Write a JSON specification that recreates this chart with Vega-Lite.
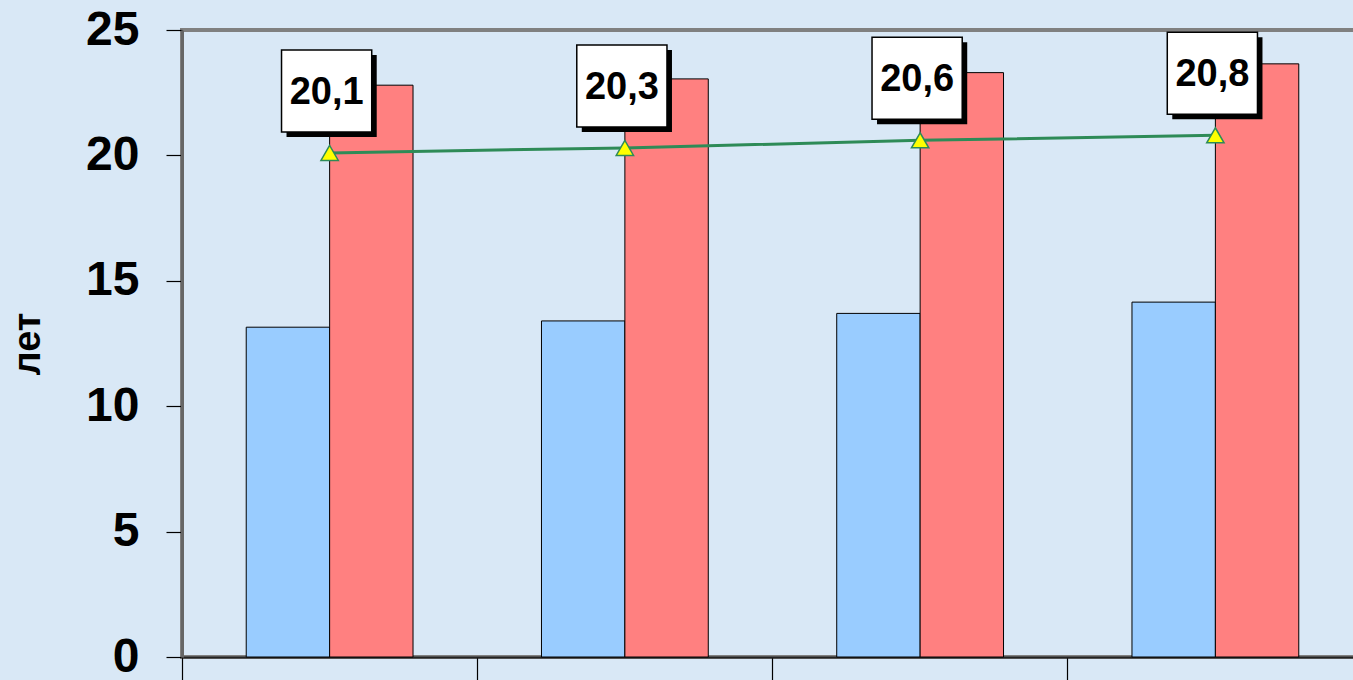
{
  "$schema": "https://vega.github.io/schema/vega-lite/v6.json",
  "autosize": {"type": "none"},
  "padding": {"left": 182, "top": 30, "right": 0, "bottom": 23},
  "width": 1181,
  "height": 627,
  "background": "#d9e8f6",
  "config": {
    "view": {"stroke": "#808080", "strokeWidth": 4},
    "locale": {"number": {"decimal": ",", "thousands": " ", "grouping": [3], "currency": ["", ""]}}
  },
  "datasets": {
    "bars": [
      {"cat": "1", "series": "a", "value": 13.15},
      {"cat": "1", "series": "b", "value": 22.8},
      {"cat": "2", "series": "a", "value": 13.4},
      {"cat": "2", "series": "b", "value": 23.05},
      {"cat": "3", "series": "a", "value": 13.7},
      {"cat": "3", "series": "b", "value": 23.3},
      {"cat": "4", "series": "a", "value": 14.15},
      {"cat": "4", "series": "b", "value": 23.65}
    ],
    "line": [
      {"cat": "1", "value": 20.1},
      {"cat": "2", "value": 20.3},
      {"cat": "3", "value": 20.6},
      {"cat": "4", "value": 20.8}
    ]
  },
  "encoding": {
    "x": {
      "field": "cat", "type": "nominal",
      "scale": {"paddingInner": 0, "paddingOuter": 0},
      "axis": {
        "title": null, "labels": false, "bandPosition": 0,
        "tickSize": 30, "tickColor": "#000000", "tickWidth": 1.2,
        "domainColor": "#222222", "domainWidth": 2
      }
    },
    "y": {
      "field": "value", "type": "quantitative",
      "scale": {"domain": [0, 25], "nice": false, "zero": true}
    }
  },
  "layer": [
    {
      "data": {"name": "bars"},
      "mark": {"type": "bar", "stroke": "#000000", "strokeWidth": 1},
      "encoding": {
        "xOffset": {"field": "series", "type": "nominal", "scale": {"paddingInner": 0, "paddingOuter": 0.77}},
        "color": {"field": "series", "type": "nominal", "scale": {"domain": ["a", "b"], "range": ["#99ccff", "#ff8080"]}, "legend": null},
        "y": {
          "field": "value", "type": "quantitative",
          "axis": {
            "title": "лет", "titleFont": "Liberation Sans", "titleFontSize": 38, "titleFontWeight": "bold", "titleColor": "#000000",
            "titlePadding": 38,
            "values": [0, 5, 10, 15, 20, 25], "grid": false,
            "labelFont": "Liberation Sans", "labelFontSize": 48, "labelFontWeight": "bold", "labelColor": "#000000",
            "labelPadding": 27, "tickSize": 16, "tickColor": "#000000", "tickWidth": 1.2,
            "domainColor": "#666666", "domainWidth": 3
          }
        }
      }
    },
    {
      "data": {"name": "line"},
      "mark": {"type": "line", "color": "#2e8b57", "strokeWidth": 3},
      "encoding": {}
    },
    {
      "data": {"name": "line"},
      "mark": {"type": "point", "shape": "triangle-up", "filled": true, "fill": "#ffff00", "stroke": "#2e8b57", "strokeWidth": 1.5, "size": 300, "opacity": 1},
      "encoding": {}
    },
    {
      "data": {"name": "line"},
      "mark": {"type": "point", "shape": "M-1.1,-1L1.1,-1L1.1,1L-1.1,1Z", "filled": true, "fill": "#000000", "size": 6724, "opacity": 1, "xOffset": 2, "yOffset": -57},
      "encoding": {}
    },
    {
      "data": {"name": "line"},
      "mark": {"type": "point", "shape": "M-1.1,-1L1.1,-1L1.1,1L-1.1,1Z", "filled": true, "fill": "#ffffff", "stroke": "#000000", "strokeWidth": 1.5, "size": 6724, "opacity": 1, "xOffset": -3, "yOffset": -62},
      "encoding": {}
    },
    {
      "data": {"name": "line"},
      "mark": {"type": "text", "font": "Liberation Sans", "fontSize": 38, "fontWeight": "bold", "color": "#000000", "baseline": "middle", "align": "center", "xOffset": -3, "yOffset": -60},
      "encoding": {"text": {"field": "value", "type": "quantitative", "format": ".1f"}}
    }
  ]
}
